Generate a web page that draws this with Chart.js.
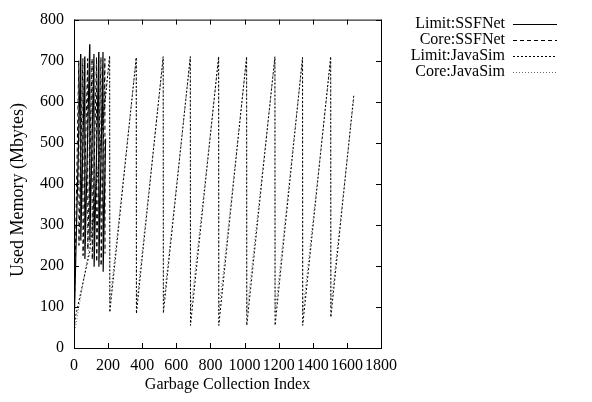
<!DOCTYPE html>
<html>
<head>
<meta charset="utf-8">
<script src="https://cdn.jsdelivr.net/npm/chart.js@4.4.1/dist/chart.umd.min.js"></script>
<style>
  html, body { margin: 0; padding: 0; background: #fff; }
  #wrap { width: 592px; height: 402px; }
</style>
</head>
<body>
<div id="wrap"><canvas id="memChart" width="592" height="402"></canvas></div>
<script>
// Series: [GC index, used MB]
const limitSSFNet = [
  [0, 40], [39, 716], [40, 262], [63, 710], [64, 217], [92, 740], [93, 262],
  [117, 716], [118, 198], [145, 721], [146, 198], [170, 721], [171, 186], [185, 510]
];
const coreSSFNet = [
  [0, 35], [28, 700], [29, 250], [52, 705], [53, 225], [80, 705], [81, 240],
  [106, 705], [107, 215], [132, 708], [133, 210], [158, 708], [159, 200], [181, 705], [182, 230]
];
const limitJavaSim = [
  [0, 40], [8, 75], [92, 234], [209, 712], [210, 87], [365, 708], [366, 84],
  [523, 710], [524, 85], [682, 710], [683, 55], [848, 710], [849, 55],
  [1012, 710], [1013, 55], [1178, 710], [1179, 55], [1340, 708], [1341, 55],
  [1505, 710], [1506, 75], [1641, 618]
];
const coreJavaSim = [
  [0, 42], [8, 50], [82, 226], [209, 705], [210, 110], [365, 705], [366, 105],
  [523, 705], [524, 105], [682, 705], [683, 85], [848, 705], [849, 85],
  [1012, 705], [1013, 85], [1178, 705], [1179, 85], [1340, 705], [1341, 85],
  [1505, 700], [1506, 100], [1641, 610]
];

const seriesLabels = ['Limit:SSFNet', 'Core:SSFNet', 'Limit:JavaSim', 'Core:JavaSim'];
const xTickValues = [0, 200, 400, 600, 800, 1000, 1200, 1400, 1600, 1800];
const yTickValues = [0, 100, 200, 300, 400, 500, 600, 700, 800];
const yTitle = 'Used Memory (Mbytes)';

const FONT = '"Liberation Serif", "DejaVu Serif", serif';
const TICK_LEN = 5;

function toPoints(rows) {
  return rows.map(r => ({ x: r[0], y: r[1] }));
}

// gnuplot-like frame with inward mirrored ticks, the y title and the key
const frameAndKey = {
  id: 'frameAndKey',
  afterDatasetsDraw(chart) {
    const { ctx, chartArea: a, scales: { x, y } } = chart;
    ctx.save();
    ctx.strokeStyle = '#000';
    ctx.lineWidth = 1;
    ctx.setLineDash([]);
    ctx.strokeRect(a.left + 0.5, a.top + 0.5, a.right - a.left, a.bottom - a.top);

    ctx.beginPath();
    xTickValues.forEach(v => {
      const px = Math.round(x.getPixelForValue(v)) + 0.5;
      ctx.moveTo(px, a.bottom);
      ctx.lineTo(px, a.bottom - TICK_LEN);
      ctx.moveTo(px, a.top);
      ctx.lineTo(px, a.top + TICK_LEN);
    });
    yTickValues.forEach(v => {
      const py = Math.round(y.getPixelForValue(v)) + 0.5;
      ctx.moveTo(a.left, py);
      ctx.lineTo(a.left + TICK_LEN, py);
      ctx.moveTo(a.right, py);
      ctx.lineTo(a.right - TICK_LEN, py);
    });
    ctx.stroke();

    // y title (gnuplot places it a bit below the middle)
    ctx.save();
    ctx.translate(18, 190);
    ctx.rotate(-Math.PI / 2);
    ctx.font = '18px ' + FONT;
    ctx.fillStyle = '#000';
    ctx.textAlign = 'center';
    ctx.textBaseline = 'middle';
    ctx.fillText(yTitle, 0, 0);
    ctx.restore();

    // key
    ctx.font = '16px ' + FONT;
    ctx.textAlign = 'right';
    ctx.textBaseline = 'middle';
    chart.data.datasets.forEach((ds, i) => {
      const rowY = 24 + i * 16;
      ctx.fillStyle = '#000';
      ctx.fillText(ds.label, 505, rowY);
      ctx.strokeStyle = ds.borderColor;
      ctx.lineWidth = ds.borderWidth;
      ctx.setLineDash(ds.borderDash || []);
      ctx.beginPath();
      ctx.moveTo(513, rowY + 0.5);
      ctx.lineTo(557, rowY + 0.5);
      ctx.stroke();
    });
    ctx.restore();
  }
};

const ctx = document.getElementById('memChart').getContext('2d');
new Chart(ctx, {
  type: 'line',
  data: {
    datasets: [
      { label: seriesLabels[0], data: toPoints(limitSSFNet), borderColor: '#000', borderWidth: 1.2, borderDash: [] },
      { label: seriesLabels[1], data: toPoints(coreSSFNet), borderColor: '#000', borderWidth: 1, borderDash: [4, 3] },
      { label: seriesLabels[2], data: toPoints(limitJavaSim), borderColor: '#000', borderWidth: 1, borderDash: [2, 2] },
      { label: seriesLabels[3], data: toPoints(coreJavaSim), borderColor: '#666', borderWidth: 1, borderDash: [1, 2] }
    ]
  },
  options: {
    responsive: false,
    animation: false,
    devicePixelRatio: 1,
    layout: { padding: { top: 13, right: 211, left: 0, bottom: 0 } },
    elements: { point: { radius: 0 }, line: { tension: 0, fill: false } },
    plugins: { legend: { display: false }, tooltip: { enabled: false } },
    scales: {
      x: {
        type: 'linear',
        min: 0,
        max: 1800,
        afterFit: s => { s.height = 54; },
        grid: { display: false, drawTicks: false },
        border: { display: false },
        ticks: {
          stepSize: 200,
          autoSkip: false,
          maxRotation: 0,
          padding: 8,
          color: '#000',
          font: { family: FONT, size: 16 },
          callback: v => String(v)
        },
        title: {
          display: true,
          text: 'Garbage Collection Index',
          color: '#000',
          font: { family: FONT, size: 16 },
          padding: { top: 0, bottom: 8 }
        }
      },
      y: {
        min: 0,
        max: 800,
        afterFit: s => { s.width = 74; },
        grid: { display: false, drawTicks: false },
        border: { display: false },
        ticks: {
          stepSize: 100,
          autoSkip: false,
          padding: 10,
          color: '#000',
          font: { family: FONT, size: 16 },
          callback: v => String(v)
        },
        title: { display: false }
      }
    }
  },
  plugins: [frameAndKey]
});
</script>
</body>
</html>
